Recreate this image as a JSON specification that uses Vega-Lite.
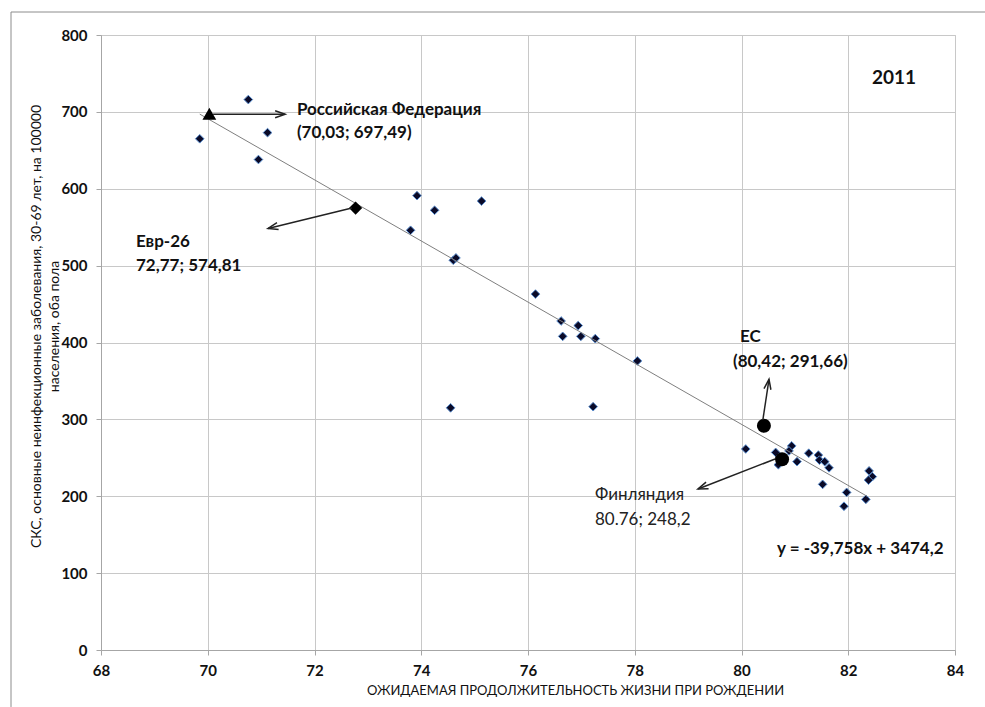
{
  "$schema": "https://vega.github.io/schema/vega-lite/v6.json",
  "width": 854,
  "height": 615,
  "autosize": {"type": "none"},
  "padding": {"left": 101, "top": 35, "right": 30, "bottom": 57},
  "background": "white",
  "config": {
    "view": {"stroke": "#c8c8c8", "strokeWidth": 1},
    "font": "Lato, DejaVu Sans Condensed, sans-serif"
  },
  "datasets": {
    "countries": [
      {"le": 69.85, "cvd": 665}, {"le": 70.76, "cvd": 716}, {"le": 71.12, "cvd": 673},
      {"le": 70.95, "cvd": 638}, {"le": 73.92, "cvd": 591}, {"le": 74.25, "cvd": 572},
      {"le": 75.13, "cvd": 584}, {"le": 73.80, "cvd": 546}, {"le": 74.60, "cvd": 507},
      {"le": 74.65, "cvd": 510}, {"le": 76.14, "cvd": 463}, {"le": 76.62, "cvd": 428},
      {"le": 76.94, "cvd": 422}, {"le": 76.65, "cvd": 408}, {"le": 76.99, "cvd": 408},
      {"le": 77.26, "cvd": 405}, {"le": 78.05, "cvd": 376}, {"le": 74.55, "cvd": 315},
      {"le": 77.22, "cvd": 316.5}, {"le": 80.08, "cvd": 261.5}, {"le": 80.64, "cvd": 257},
      {"le": 80.69, "cvd": 241}, {"le": 80.94, "cvd": 265.5}, {"le": 80.89, "cvd": 259},
      {"le": 81.04, "cvd": 245}, {"le": 81.26, "cvd": 256}, {"le": 81.44, "cvd": 253.5},
      {"le": 81.46, "cvd": 247}, {"le": 81.56, "cvd": 245}, {"le": 81.64, "cvd": 237},
      {"le": 81.52, "cvd": 215.5}, {"le": 81.97, "cvd": 205}, {"le": 81.92, "cvd": 187},
      {"le": 82.33, "cvd": 196}, {"le": 82.39, "cvd": 233}, {"le": 82.45, "cvd": 225.5},
      {"le": 82.38, "cvd": 221}
    ],
    "trend": [
      {"le": 69.85, "cvd": 697.1},
      {"le": 82.35, "cvd": 200.1}
    ],
    "arrows": [
      {"name": "ru", "x": 70.10, "y": 697, "x2": 71.45, "y2": 697},
      {"name": "eu26", "x": 72.70, "y": 575, "x2": 71.13, "y2": 548.3},
      {"name": "ec", "x": 80.40, "y": 299.2, "x2": 80.515, "y2": 352.1},
      {"name": "fi", "x": 80.63, "y": 248.5, "x2": 79.185, "y2": 209.4}
    ],
    "boldLabels": [
      {"lx": 71.67, "ly": 702.4, "t": "Российская Федерация"},
      {"lx": 71.67, "ly": 672.5, "t": "(70,03; 697,49)"},
      {"lx": 68.656, "ly": 530.7, "t": "Евр-26"},
      {"lx": 68.656, "ly": 499.5, "t": "72,77; 574,81"},
      {"lx": 79.97, "ly": 407.2, "t": "ЕС"},
      {"lx": 79.84, "ly": 374.6, "t": "(80,42; 291,66)"},
      {"lx": 80.665, "ly": 131.4, "t": "y = -39,758x + 3474,2"}
    ],
    "normalLabels": [
      {"lx": 77.255, "ly": 201.6, "t": "Финляндия"},
      {"lx": 77.255, "ly": 169.1, "t": "80.76; 248,2"}
    ],
    "frame": [
      {"x": 66.314, "y": 829.9, "x2": 84.562, "y2": 829.9},
      {"x": 66.314, "y": 829.9, "x2": 66.314, "y2": -74.1}
    ]
  },
  "layer": [
    {
      "data": {"name": "countries"},
      "mark": {"type": "point", "shape": "diamond", "filled": true, "size": 75, "fill": "#0a0a28", "stroke": "#5b8fd0", "strokeWidth": 1, "opacity": 1},
      "encoding": {
        "x": {
          "field": "le", "type": "quantitative",
          "scale": {"domain": [68, 84], "nice": false, "zero": false},
          "axis": {
            "values": [68, 70, 72, 74, 76, 78, 80, 82, 84],
            "grid": true, "gridColor": "#c8c8c8", "gridWidth": 1,
            "domainColor": "#a6a6a6", "tickColor": "#a6a6a6", "tickSize": 5,
            "labelFont": "Lato, DejaVu Sans Condensed, sans-serif",
            "labelFontSize": 15, "labelFontWeight": "bold", "labelColor": "#111111", "labelPadding": 8,
            "labelFlush": false,
            "title": "ОЖИДАЕМАЯ ПРОДОЛЖИТЕЛЬНОСТЬ ЖИЗНИ ПРИ РОЖДЕНИИ",
            "titleFont": "Lato, DejaVu Sans Condensed, sans-serif",
            "titleFontSize": 13, "titleFontWeight": "normal", "titleColor": "#111111",
            "titleX": 474, "titleY": 40, "titleBaseline": "middle", "titleAnchor": "middle"
          }
        },
        "y": {
          "field": "cvd", "type": "quantitative",
          "scale": {"domain": [0, 800], "nice": false, "zero": true},
          "axis": {
            "values": [0, 100, 200, 300, 400, 500, 600, 700, 800],
            "grid": true, "gridColor": "#c8c8c8", "gridWidth": 1,
            "domainColor": "#a6a6a6", "tickColor": "#a6a6a6", "tickSize": 5,
            "labelFont": "Lato, DejaVu Sans Condensed, sans-serif",
            "labelFontSize": 15, "labelFontWeight": "bold", "labelColor": "#111111", "labelPadding": 9,
            "labelFlush": false,
            "title": ["СКС, основные неинфекционные заболевания, 30-69 лет, на 100000", "населения, оба пола"],
            "titleFont": "Lato, DejaVu Sans Condensed, sans-serif",
            "titleFontSize": 14, "titleFontWeight": "normal", "titleColor": "#111111",
            "titleLineHeight": 18,
            "titleX": -58, "titleY": 291, "titleBaseline": "bottom", "titleAngle": -90, "titleAlign": "center"
          }
        }
      }
    },
    {
      "data": {"name": "trend"},
      "mark": {"type": "line", "color": "#7f7f7f", "strokeWidth": 1},
      "encoding": {
        "x": {"field": "le", "type": "quantitative"},
        "y": {"field": "cvd", "type": "quantitative"}
      }
    },
    {
      "data": {"values": [{"le": 70.03, "cvd": 697.49}]},
      "mark": {"type": "point", "shape": "triangle-up", "filled": true, "size": 190, "color": "#000000", "opacity": 1},
      "encoding": {
        "x": {"field": "le", "type": "quantitative"},
        "y": {"field": "cvd", "type": "quantitative"}
      }
    },
    {
      "data": {"values": [{"le": 72.77, "cvd": 574.81}]},
      "mark": {"type": "point", "shape": "diamond", "filled": true, "size": 175, "color": "#000000", "opacity": 1},
      "encoding": {
        "x": {"field": "le", "type": "quantitative"},
        "y": {"field": "cvd", "type": "quantitative"}
      }
    },
    {
      "data": {"values": [{"le": 80.42, "cvd": 291.66}, {"le": 80.76, "cvd": 248.2}]},
      "mark": {"type": "point", "shape": "circle", "filled": true, "size": 196, "color": "#000000", "opacity": 1},
      "encoding": {
        "x": {"field": "le", "type": "quantitative"},
        "y": {"field": "cvd", "type": "quantitative"}
      }
    },
    {
      "data": {"name": "arrows"},
      "mark": {"type": "rule", "color": "#222222", "strokeWidth": 1.5},
      "encoding": {
        "x": {"field": "x", "type": "quantitative"},
        "y": {"field": "y", "type": "quantitative"},
        "x2": {"field": "x2"},
        "y2": {"field": "y2"}
      }
    },
    {
      "data": {"name": "arrows"},
      "transform": [{"filter": "datum.name === 'ru'"}],
      "mark": {"type": "point", "shape": "M-1,-0.35L0,0L-1,0.35", "filled": false, "size": 400, "stroke": "#222222", "strokeWidth": 1.5, "opacity": 1, "angle": 0},
      "encoding": {
        "x": {"field": "x2", "type": "quantitative"},
        "y": {"field": "y2", "type": "quantitative"}
      }
    },
    {
      "data": {"name": "arrows"},
      "transform": [{"filter": "datum.name === 'eu26'"}],
      "mark": {"type": "point", "shape": "M-1,-0.35L0,0L-1,0.35", "filled": false, "size": 400, "stroke": "#222222", "strokeWidth": 1.5, "opacity": 1, "angle": 166.4},
      "encoding": {
        "x": {"field": "x2", "type": "quantitative"},
        "y": {"field": "y2", "type": "quantitative"}
      }
    },
    {
      "data": {"name": "arrows"},
      "transform": [{"filter": "datum.name === 'ec'"}],
      "mark": {"type": "point", "shape": "M-1,-0.35L0,0L-1,0.35", "filled": false, "size": 400, "stroke": "#222222", "strokeWidth": 1.5, "opacity": 1, "angle": 278.8},
      "encoding": {
        "x": {"field": "x2", "type": "quantitative"},
        "y": {"field": "y2", "type": "quantitative"}
      }
    },
    {
      "data": {"name": "arrows"},
      "transform": [{"filter": "datum.name === 'fi'"}],
      "mark": {"type": "point", "shape": "M-1,-0.35L0,0L-1,0.35", "filled": false, "size": 400, "stroke": "#222222", "strokeWidth": 1.5, "opacity": 1, "angle": 158.7},
      "encoding": {
        "x": {"field": "x2", "type": "quantitative"},
        "y": {"field": "y2", "type": "quantitative"}
      }
    },
    {
      "data": {"name": "boldLabels"},
      "mark": {"type": "text", "align": "left", "baseline": "middle", "fontWeight": "bold", "fontSize": 17, "color": "#111111", "font": "Lato, DejaVu Sans Condensed, sans-serif"},
      "encoding": {
        "x": {"field": "lx", "type": "quantitative"},
        "y": {"field": "ly", "type": "quantitative"},
        "text": {"field": "t"}
      }
    },
    {
      "data": {"name": "normalLabels"},
      "mark": {"type": "text", "align": "left", "baseline": "middle", "fontWeight": "normal", "fontSize": 17, "color": "#222222", "font": "Lato, DejaVu Sans Condensed, sans-serif"},
      "encoding": {
        "x": {"field": "lx", "type": "quantitative"},
        "y": {"field": "ly", "type": "quantitative"},
        "text": {"field": "t"}
      }
    },
    {
      "data": {"values": [{"lx": 82.857, "ly": 744.1, "t": "2011"}]},
      "mark": {"type": "text", "align": "center", "baseline": "middle", "fontWeight": "bold", "fontSize": 19, "color": "#111111", "font": "Lato, DejaVu Sans Condensed, sans-serif"},
      "encoding": {
        "x": {"field": "lx", "type": "quantitative"},
        "y": {"field": "ly", "type": "quantitative"},
        "text": {"field": "t"}
      }
    },
    {
      "data": {"name": "frame"},
      "mark": {"type": "rule", "color": "#8c8c8c", "strokeWidth": 1},
      "encoding": {
        "x": {"field": "x", "type": "quantitative"},
        "y": {"field": "y", "type": "quantitative"},
        "x2": {"field": "x2"},
        "y2": {"field": "y2"}
      }
    }
  ]
}
